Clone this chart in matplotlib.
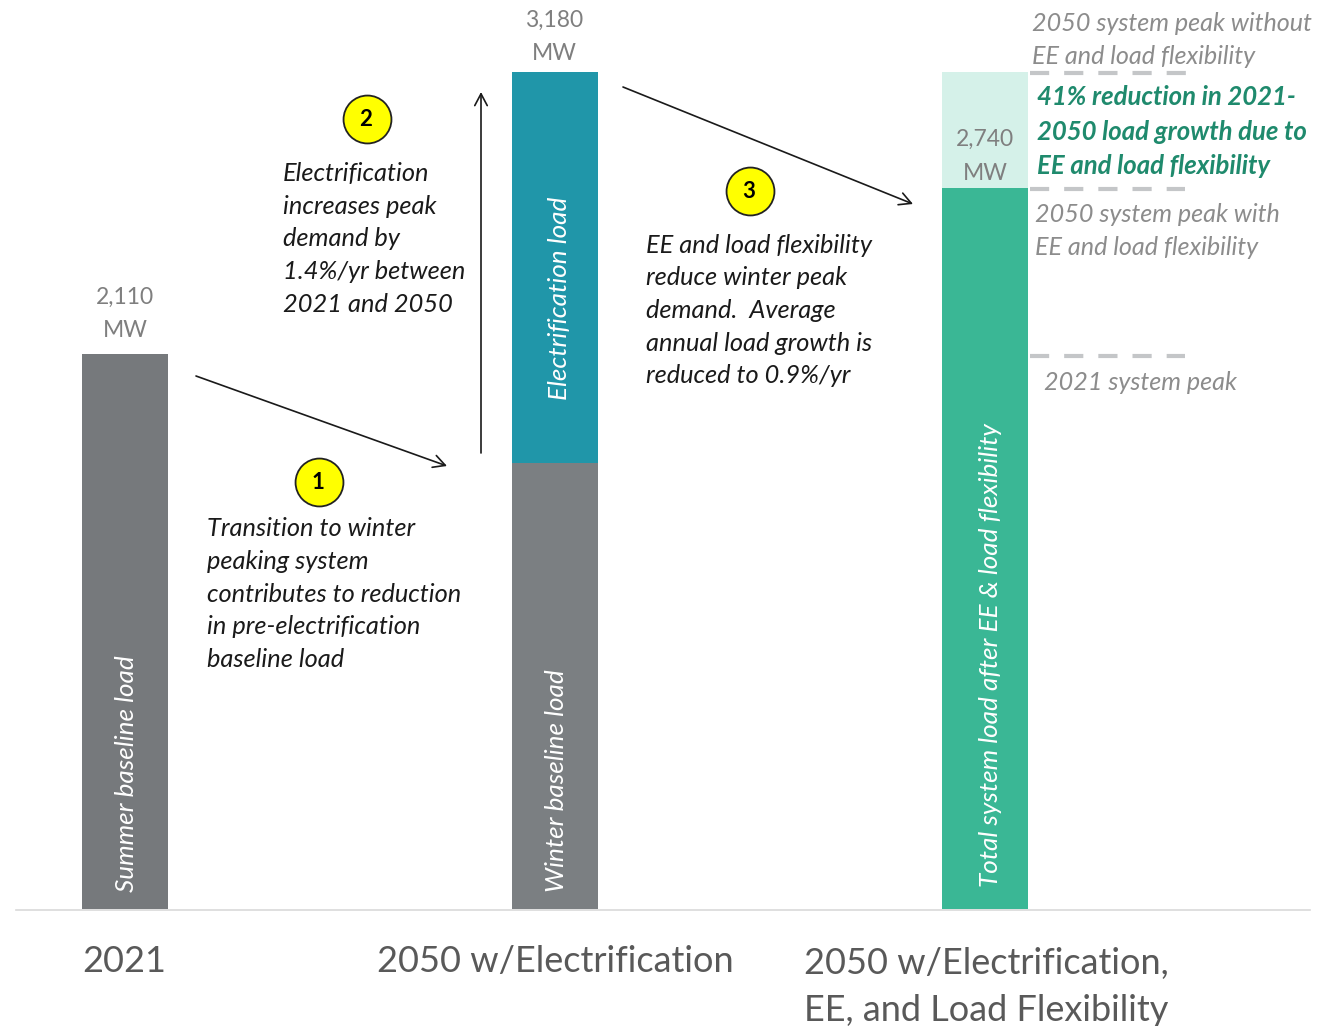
import matplotlib
matplotlib.use("Agg")
import matplotlib.pyplot as plt

W, H = 1327, 1026
categories = ["2021", "2050 w/Electrification", "2050 w/Electrification,\nEE, and Load Flexibility"]
baseline = [2110, 1694, 2740]
upper = [0, 1486, 440]
base_colors = ["#76797c", "#7b7f82", "#3ab795"]
upper_colors = ["#76797c", "#2096a9", "#d5f1e9"]
totals = ["2,110\nMW", "3,180\nMW", "2,740\nMW"]
inner = ["Summer baseline load", "Winter baseline load", "Total system load after EE & load flexibility"]

plt.rcParams['font.family'] = ['Lato', 'DejaVu Sans']
fig = plt.figure(figsize=(W/100, H/100), dpi=100)
ax = fig.add_axes([0, 0, 1, 1])
ax.set_xlim(0, W); ax.set_ylim(H, 0); ax.axis('off')
def Y(v): return 909 - v * (909 - 72) / 3180
x = [125, 554.5, 985]
bw = 86
for i in range(3):
    ax.fill_between([x[i]-bw/2, x[i]+bw/2], Y(0), Y(baseline[i]), color=base_colors[i], lw=0)
    if upper[i]:
        ax.fill_between([x[i]-bw/2, x[i]+bw/2], Y(baseline[i]), Y(baseline[i]+upper[i]), color=upper_colors[i], lw=0)
ax.plot([16, 1310], [909.5, 909.5], color="#d9d9d9", lw=1.2)

gray = "#7f7f7f"
fs = 18.3
ls = 1.51
tot = dict(ha='center', va='center', fontsize=16.5, color=gray, linespacing=1.75)
ax.text(125, 314, totals[0], **tot)
ax.text(554.5, 37, totals[1], **tot)
ax.text(985, 156.5, totals[2], **tot)

rot = dict(rotation=90, ha='center', va='bottom', fontsize=18.8, style='italic', color='white')
ax.text(127, 892, inner[0], **rot)
ax.text(557, 892, inner[1], **rot)
ax.text(559, 400, "Electrification load", **rot)
ax.text(991, 887, inner[2], **rot)

cat = "#595959"
ax.text(124, 962, categories[0], ha='center', va='center', fontsize=26, color=cat)
ax.text(555, 962, categories[1], ha='center', va='center', fontsize=26, color=cat)
ax.text(804, 987, categories[2], ha='left', va='center', fontsize=26, color=cat, linespacing=1.53)

black = "#1a1a1a"
for (a, b) in [((196, 376), (447, 466)), ((481, 453), (481, 92)), ((623, 87), (913, 204))]:
    ax.annotate("", xy=b, xytext=a, arrowprops=dict(arrowstyle="->,head_length=0.85,head_width=0.45", color=black, lw=1.2, shrinkA=0, shrinkB=0))

for (cx, cy, s) in [(319, 482, "1"), (367, 119, "2"), (750, 191, "3")]:
    ax.scatter([cx], [cy], s=1190, facecolor="#ffff00", edgecolor="#222222", lw=1.3, zorder=5)
    ax.text(cx-1, cy+0.5, s, ha='center', va='center', fontsize=16, fontweight='bold', color='black', zorder=6)

body = dict(ha='left', va='center', fontsize=fs, style='italic', color=black, linespacing=ls)
ax.text(207, 594, "Transition to winter\npeaking system\ncontributes to reduction\nin pre-electrification\nbaseline load", **body)
ax.text(283, 239, "Electrification\nincreases peak\ndemand by\n1.4%/yr between\n2021 and 2050", **body)
ax.text(646, 310.5, "EE and load flexibility\nreduce winter peak\ndemand.  Average\nannual load growth is\nreduced to 0.9%/yr", **body)

g2 = "#8c8c8c"
note = dict(ha='left', va='center', fontsize=18.1, style='italic', color=g2, linespacing=ls)
ax.text(1032, 40, "2050 system peak without\nEE and load flexibility", **note)
ax.text(1035, 231, "2050 system peak with\nEE and load flexibility", **note)
ax.text(1044, 383, "2021 system peak", **note)
ax.text(1037, 131.5, "41% reduction in 2021-\n2050 load growth due to\nEE and load flexibility", ha='left', va='center', fontsize=18.5, style='italic', fontweight='bold', color="#1f8a6d", linespacing=ls)

for (x0, x1, y) in [(1030, 1188, 72.5), (1030, 1185, 188.5), (1030, 1185, 355.5)]:
    ax.plot([x0, x1], [y, y], color="#c4c6c8", lw=3, dashes=(4.6, 3.6))

fig.savefig("out.png", dpi=100)
